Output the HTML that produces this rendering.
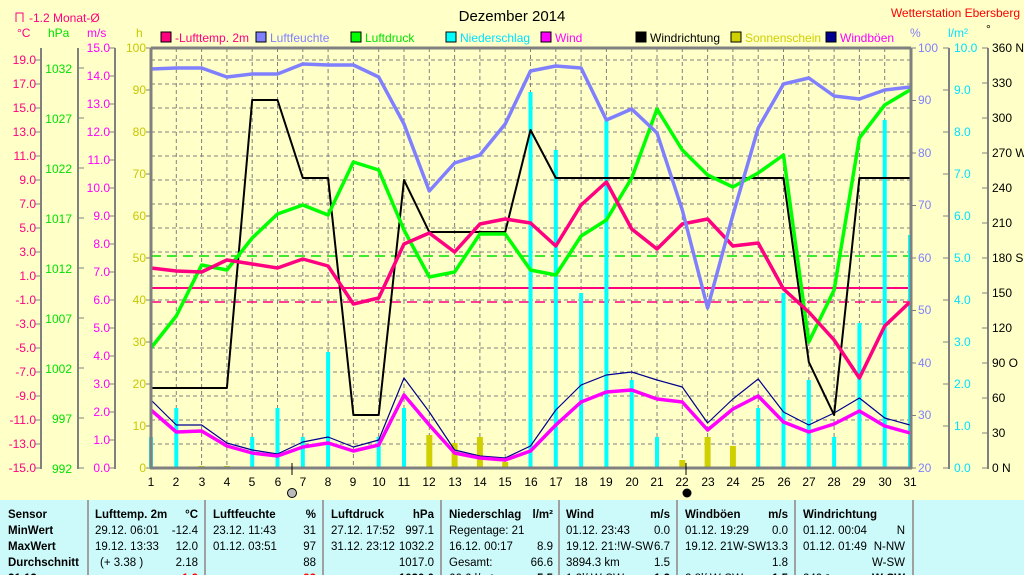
<!DOCTYPE html>
<html><head><meta charset="utf-8"><style>
html,body{margin:0;padding:0;background:#ffffc8;}
svg{display:block;font-family:"Liberation Sans",sans-serif;}
</style></head><body>
<svg id="s" width="1024" height="575" viewBox="0 0 1024 575" xmlns="http://www.w3.org/2000/svg">
<rect width="1024" height="575" fill="#ffffc8"/>
<g id="grid" stroke="#808080" stroke-width="1" stroke-dasharray="4,3"></g>
<text x="512" y="21" font-size="15" text-anchor="middle" fill="#000">Dezember 2014</text>
<text x="1020" y="17" font-size="12" text-anchor="end" fill="#ff0000">Wetterstation Ebersberg</text>
<path d="M16,22 L16,13 L23,13 L23,22" fill="none" stroke="#ff0080"/>
<text x="29" y="22" font-size="12" fill="#ff0080">-1.2 Monat-Ø</text>
<text x="17" y="37" font-size="12" fill="#ff0080">°C</text>
<text x="48" y="37" font-size="12" fill="#00e000">hPa</text>
<text x="87" y="37" font-size="12" fill="#ff00ff">m/s</text>
<text x="136" y="37" font-size="12" fill="#c8c800">h</text>
<text x="910" y="37" font-size="12" fill="#8080ff">%</text>
<text x="948" y="37" font-size="12" fill="#00e0ff">l/m²</text>
<text x="986" y="33" font-size="12" fill="#000">°</text>
<g font-size="12">
<rect x="161" y="32" width="10" height="10" fill="#ff0080" stroke="#000"/><text x="175" y="42" fill="#ff0080">-Lufttemp. 2m</text>
<rect x="256" y="32" width="10" height="10" fill="#8080ff" stroke="#000"/><text x="270" y="42" fill="#8080ff">Luftfeuchte</text>
<rect x="351" y="32" width="10" height="10" fill="#00ff00" stroke="#000"/><text x="365" y="42" fill="#00e000">Luftdruck</text>
<rect x="446" y="32" width="10" height="10" fill="#00ffff" stroke="#000"/><text x="460" y="42" fill="#00e0ff">Niederschlag</text>
<rect x="541" y="32" width="10" height="10" fill="#ff00ff" stroke="#000"/><text x="555" y="42" fill="#ff00ff">Wind</text>
<rect x="636" y="32" width="10" height="10" fill="#000" stroke="#000"/><text x="650" y="42" fill="#000">Windrichtung</text>
<rect x="731" y="32" width="10" height="10" fill="#d0d000" stroke="#000"/><text x="745" y="42" fill="#d0d000">Sonnenschein</text>
<rect x="826" y="32" width="10" height="10" fill="#000090" stroke="#000"/><text x="840" y="42" fill="#ff00ff">Windböen</text>
</g>
<g stroke="#808080" stroke-width="2">
<line x1="41" y1="48" x2="41" y2="469"/><line x1="78" y1="48" x2="78" y2="469"/><line x1="115" y1="48" x2="115" y2="469"/>
<line x1="949" y1="48" x2="949" y2="469"/><line x1="988" y1="48" x2="988" y2="469"/>
</g>
<g id="ticks" stroke="#808080" stroke-width="1"></g>
<g font-size="12" fill="#ff0080" text-anchor="end">
<text x="36" y="64">19.0</text><text x="36" y="88">17.0</text><text x="36" y="112">15.0</text><text x="36" y="136">13.0</text><text x="36" y="160">11.0</text><text x="36" y="184">9.0</text><text x="36" y="208">7.0</text><text x="36" y="232">5.0</text><text x="36" y="256">3.0</text><text x="36" y="280">1.0</text><text x="36" y="304">-1.0</text><text x="36" y="328">-3.0</text><text x="36" y="352">-5.0</text><text x="36" y="376">-7.0</text><text x="36" y="400">-9.0</text><text x="36" y="424">-11.0</text><text x="36" y="448">-13.0</text><text x="36" y="472">-15.0</text>
</g>
<g font-size="12" fill="#00e000" text-anchor="end">
<text x="72" y="73">1032</text><text x="72" y="123">1027</text><text x="72" y="173">1022</text><text x="72" y="223">1017</text><text x="72" y="273">1012</text><text x="72" y="323">1007</text><text x="72" y="373">1002</text><text x="72" y="423">997</text><text x="72" y="473">992</text>
</g>
<g font-size="12" fill="#ff00ff" text-anchor="end">
<text x="110" y="52">15.0</text><text x="110" y="80">14.0</text><text x="110" y="108">13.0</text><text x="110" y="136">12.0</text><text x="110" y="164">11.0</text><text x="110" y="192">10.0</text><text x="110" y="220">9.0</text><text x="110" y="248">8.0</text><text x="110" y="276">7.0</text><text x="110" y="304">6.0</text><text x="110" y="332">5.0</text><text x="110" y="360">4.0</text><text x="110" y="388">3.0</text><text x="110" y="416">2.0</text><text x="110" y="444">1.0</text><text x="110" y="472">0.0</text>
</g>
<g font-size="12" fill="#c8c800" text-anchor="end">
<text x="146" y="52">100</text><text x="146" y="94">90</text><text x="146" y="136">80</text><text x="146" y="178">70</text><text x="146" y="220">60</text><text x="146" y="262">50</text><text x="146" y="304">40</text><text x="146" y="346">30</text><text x="146" y="388">20</text><text x="146" y="430">10</text><text x="146" y="472">0</text>
</g>
<g font-size="12" fill="#8080ff">
<text x="918" y="52">100</text><text x="918" y="104">90</text><text x="918" y="157">80</text><text x="918" y="209">70</text><text x="918" y="262">60</text><text x="918" y="314">50</text><text x="918" y="367">40</text><text x="918" y="419">30</text><text x="918" y="472">20</text>
</g>
<g font-size="12" fill="#00e0ff">
<text x="954" y="52">10.0</text><text x="954" y="94">9.0</text><text x="954" y="136">8.0</text><text x="954" y="178">7.0</text><text x="954" y="220">6.0</text><text x="954" y="262">5.0</text><text x="954" y="304">4.0</text><text x="954" y="346">3.0</text><text x="954" y="388">2.0</text><text x="954" y="430">1.0</text><text x="954" y="472">0.0</text>
</g>
<g font-size="12" fill="#000">
<text x="992" y="52">360 N</text><text x="992" y="87">330</text><text x="992" y="122">300</text><text x="992" y="157">270 W</text><text x="992" y="192">240</text><text x="992" y="227">210</text><text x="992" y="262">180 S</text><text x="992" y="297">150</text><text x="992" y="332">120</text><text x="992" y="367">90  O</text><text x="992" y="402">60</text><text x="992" y="437">30</text><text x="992" y="472">0  N</text>
</g>
<g font-size="12" fill="#000" text-anchor="middle">
<text x="151" y="486">1</text><text x="176" y="486">2</text><text x="202" y="486">3</text><text x="227" y="486">4</text><text x="252" y="486">5</text><text x="278" y="486">6</text><text x="303" y="486">7</text><text x="328" y="486">8</text><text x="353" y="486">9</text><text x="379" y="486">10</text><text x="404" y="486">11</text><text x="429" y="486">12</text><text x="455" y="486">13</text><text x="480" y="486">14</text><text x="505" y="486">15</text><text x="531" y="486">16</text><text x="556" y="486">17</text><text x="581" y="486">18</text><text x="606" y="486">19</text><text x="632" y="486">20</text><text x="657" y="486">21</text><text x="682" y="486">22</text><text x="708" y="486">23</text><text x="733" y="486">24</text><text x="758" y="486">25</text><text x="784" y="486">26</text><text x="809" y="486">27</text><text x="834" y="486">28</text><text x="859" y="486">29</text><text x="885" y="486">30</text><text x="910" y="486">31</text>
</g>
<g id="data"></g>
<g stroke="#808080" stroke-width="3" fill="none">
<line x1="151" y1="48" x2="151" y2="469"/><line x1="151" y1="48" x2="911" y2="48"/><line x1="911" y1="48" x2="911" y2="469"/><line x1="150" y1="468" x2="912" y2="468"/>
</g>
<line x1="292" y1="463" x2="292" y2="475" stroke="#000"/>
<line x1="686" y1="463" x2="686" y2="475" stroke="#000"/>
<circle cx="292" cy="493" r="4.5" fill="#bbb" stroke="#000"/>
<circle cx="687" cy="493" r="4.5" fill="#000"/>
<rect x="0" y="500" width="1024" height="75" fill="#ccfafa"/>
<g stroke="#a0a0a0" stroke-width="2">
<line x1="88" y1="500" x2="88" y2="575"/><line x1="205" y1="500" x2="205" y2="575"/><line x1="323" y1="500" x2="323" y2="575"/><line x1="441" y1="500" x2="441" y2="575"/><line x1="559" y1="500" x2="559" y2="575"/><line x1="677" y1="500" x2="677" y2="575"/><line x1="795" y1="500" x2="795" y2="575"/><line x1="913" y1="500" x2="913" y2="575"/>
</g>
<g font-size="11.5" fill="#000">
<g font-weight="bold">
<text x="8" y="518">Sensor</text><text x="8" y="534">MinWert</text><text x="8" y="550">MaxWert</text><text x="8" y="566">Durchschnitt</text><text x="8" y="582">21.12.</text>
<text x="95" y="518">Lufttemp. 2m</text><text x="198" y="518" text-anchor="end">°C</text>
<text x="213" y="518">Luftfeuchte</text><text x="316" y="518" text-anchor="end">%</text>
<text x="331" y="518">Luftdruck</text><text x="434" y="518" text-anchor="end">hPa</text>
<text x="449" y="518">Niederschlag</text><text x="553" y="518" text-anchor="end">l/m²</text>
<text x="566" y="518">Wind</text><text x="670" y="518" text-anchor="end">m/s</text>
<text x="685" y="518">Windböen</text><text x="788" y="518" text-anchor="end">m/s</text>
<text x="803" y="518">Windrichtung</text>
<text x="198" y="582" text-anchor="end" fill="#ff0000">-1.2</text><text x="316" y="582" text-anchor="end" fill="#ff0000">92</text><text x="434" y="582" text-anchor="end">1030.0</text><text x="553" y="582" text-anchor="end">5.5</text><text x="670" y="582" text-anchor="end">1.2</text><text x="788" y="582" text-anchor="end">1.5</text><text x="905" y="582" text-anchor="end">W-SW</text>
</g>
<text x="95" y="534">29.12.  06:01</text><text x="198" y="534" text-anchor="end">-12.4</text>
<text x="95" y="550">19.12.  13:33</text><text x="198" y="550" text-anchor="end">12.0</text>
<text x="100" y="566">(+ 3.38 )</text><text x="198" y="566" text-anchor="end">2.18</text>
<text x="213" y="534">23.12.  11:43</text><text x="316" y="534" text-anchor="end">31</text>
<text x="213" y="550">01.12.  03:51</text><text x="316" y="550" text-anchor="end">97</text>
<text x="316" y="566" text-anchor="end">88</text>
<text x="331" y="534">27.12.  17:52</text><text x="434" y="534" text-anchor="end">997.1</text>
<text x="331" y="550">31.12.  23:12</text><text x="434" y="550" text-anchor="end">1032.2</text>
<text x="434" y="566" text-anchor="end">1017.0</text>
<text x="449" y="534">Regentage: 21</text>
<text x="449" y="550">16.12.  00:17</text><text x="553" y="550" text-anchor="end">8.9</text>
<text x="449" y="566">Gesamt:</text><text x="553" y="566" text-anchor="end">66.6</text>
<text x="449" y="582">66.6 l/m²</text>
<text x="566" y="534">01.12.  23:43</text><text x="670" y="534" text-anchor="end">0.0</text>
<text x="566" y="550">19.12.  21:!W-SW</text><text x="670" y="550" text-anchor="end">6.7</text>
<text x="566" y="566">3894.3 km</text><text x="670" y="566" text-anchor="end">1.5</text>
<text x="566" y="582">1.2l/ W-SW</text>
<text x="685" y="534">01.12.  19:29</text><text x="788" y="534" text-anchor="end">0.0</text>
<text x="685" y="550">19.12.  21W-SW</text><text x="788" y="550" text-anchor="end">13.3</text>
<text x="788" y="566" text-anchor="end">1.8</text>
<text x="685" y="582">2.8l/ W-SW</text>
<text x="803" y="534">01.12.  00:04</text><text x="905" y="534" text-anchor="end">N</text>
<text x="803" y="550">01.12.  01:49</text><text x="905" y="550" text-anchor="end">N-NW</text>
<text x="905" y="566" text-anchor="end">W-SW</text>
<text x="803" y="582">240 °</text>
</g>
</svg>
<script>
var NS="http://www.w3.org/2000/svg";
function el(p,t,a){var e=document.createElementNS(NS,t);for(var k in a)e.setAttribute(k,a[k]);p.appendChild(e);return e;}
var X=function(d){return 151+(d-1)*25.3;};
var g=document.getElementById('grid');
for(var d=2;d<=30;d++)el(g,'line',{x1:X(d),y1:48,x2:X(d),y2:468});
for(var y=60;y<468;y+=24)el(g,'line',{x1:151,y1:y,x2:911,y2:y});
var tk=document.getElementById('ticks');
for(var y=60;y<=468;y+=24)el(tk,'line',{x1:35,y1:y,x2:41,y2:y});
for(var y=68;y<=468;y+=50)el(tk,'line',{x1:78,y1:y,x2:84,y2:y});
for(var y=48;y<=468;y+=28)el(tk,'line',{x1:109,y1:y,x2:115,y2:y});
for(var y=48;y<=468;y+=42)el(tk,'line',{x1:146,y1:y,x2:151,y2:y});
for(var i=0;i<=8;i++)el(tk,'line',{x1:911,y1:48+i*52.5,x2:916,y2:48+i*52.5});
for(var y=48;y<=468;y+=42)el(tk,'line',{x1:943,y1:y,x2:949,y2:y});
for(var y=48;y<=468;y+=35)el(tk,'line',{x1:982,y1:y,x2:988,y2:y});
var D=document.getElementById('data');
el(D,'line',{x1:151,y1:256,x2:911,y2:256,stroke:'#00e000','stroke-dasharray':'10,6','stroke-width':1.5});
el(D,'line',{x1:151,y1:288,x2:911,y2:288,stroke:'#ff0080','stroke-width':2});
el(D,'line',{x1:151,y1:302,x2:911,y2:302,stroke:'#ff0080','stroke-dasharray':'10,6','stroke-width':1.5});
var sun={12:435,13:443,14:437,15:462,22:460,23:437,24:446,3:466,4:466};
for(var k in sun)el(D,'rect',{x:X(+k)-3,y:sun[k],width:6,height:468-sun[k],fill:'#d0d000'});
var pr={1:437,2:408,5:437,6:408,7:437,8:352,10:437,11:408,16:92,17:150,18:293,19:120,20:380,21:437,25:408,26:293,27:380,28:437,29:323,30:120,31:235};
for(var k in pr)el(D,'rect',{x:X(+k)-2,y:pr[k],width:4,height:468-pr[k],fill:'#00ffff'});
function line(a,c,w){var p=a.map(function(v,i){return X(i+1)+','+v;}).join(' ');el(D,'polyline',{points:p,fill:'none',stroke:c,'stroke-width':w,'stroke-linejoin':'round'});}
line([400,425,425,443,450,454,442,437,447,440,378,412,450,456,458,446,410,385,375,372,380,387,423,399,379,412,425,413,398,418,425],'#000090',1.2);
line([410,432,431,446,453,456,447,443,451,445,395,425,453,458,460,451,425,402,392,390,399,402,430,409,396,422,432,424,411,426,433],'#ff00ff',3.5);
line([388,388,388,388,100,100,178,178,415,415,180,232,232,232,232,130,178,178,178,178,178,178,178,178,178,178,362,415,178,178,178],'#000',2);
line([348,316,265,270,238,214,205,215,162,170,230,277,272,234,234,270,275,236,220,178,109,150,175,187,173,155,342,290,138,105,90],'#00ff00',3.5);
line([268,271,272,260,264,268,259,266,304,298,244,233,252,224,219,223,246,205,182,229,249,224,219,246,243,289,312,340,378,326,302],'#ff0080',3.5);
line([69,68,68,77,74,74,64,65,65,77,124,191,163,155,124,71,66,68,120,109,133,210,308,215,128,84,78,96,99,90,87],'#8080ff',3.5);
</script>
</body></html>
